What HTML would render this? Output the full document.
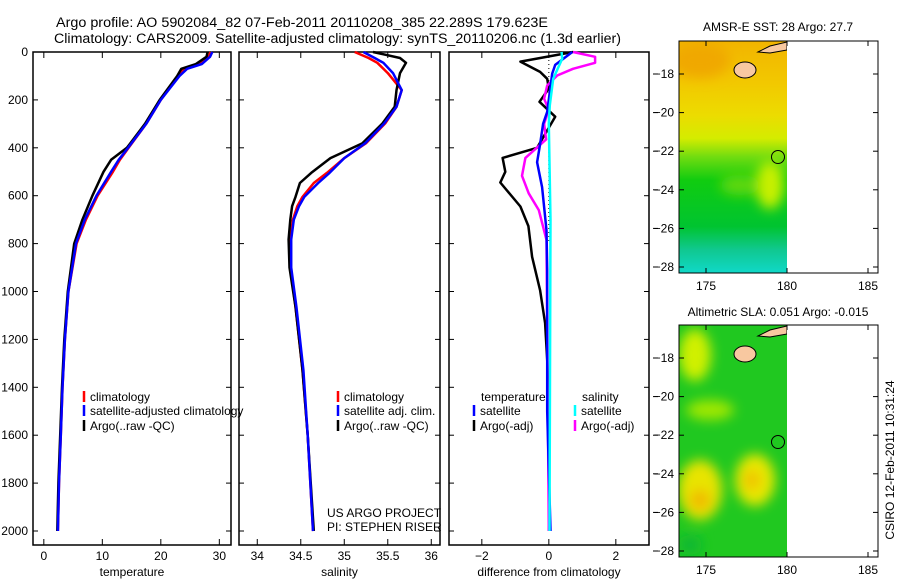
<!DOCTYPE html>
<html><head><meta charset="utf-8"><style>
html,body{margin:0;padding:0;background:#fff;}
svg{display:block;font-family:"Liberation Sans",sans-serif;}
</style></head><body>
<svg id="chart" width="900" height="580" viewBox="0 0 900 580" xmlns="http://www.w3.org/2000/svg">
<defs>
<linearGradient id="sstg" x1="0" y1="0" x2="0" y2="1">
<stop offset="0" stop-color="#f2b400"/><stop offset="0.18" stop-color="#f2c800"/>
<stop offset="0.32" stop-color="#ecdc00"/><stop offset="0.42" stop-color="#d4ec00"/>
<stop offset="0.5" stop-color="#70dc10"/><stop offset="0.6" stop-color="#10cc10"/>
<stop offset="0.8" stop-color="#00c430"/><stop offset="0.9" stop-color="#10c890"/>
<stop offset="1" stop-color="#10d8c8"/></linearGradient>
<filter id="blur"><feGaussianBlur stdDeviation="6"/></filter>
<clipPath id="c1"><rect x="679" y="41" width="108" height="232"/></clipPath>
<clipPath id="c2"><rect x="679" y="325" width="108" height="232"/></clipPath>
</defs>
<text x="56" y="27" font-size="13.5" textLength="492" lengthAdjust="spacingAndGlyphs">Argo profile: AO 5902084_82 07-Feb-2011 20110208_385 22.289S 179.623E</text>
<text x="54" y="43" font-size="13.5" textLength="567" lengthAdjust="spacingAndGlyphs">Climatology: CARS2009. Satellite-adjusted climatology: synTS_20110206.nc (1.3d earlier)</text>
<g id="panels"></g>
<g>
<text x="778" y="31" font-size="12" text-anchor="middle">AMSR-E SST: 28 Argo: 27.7</text>
<g clip-path="url(#c1)">
<rect x="679" y="41" width="108" height="232" fill="url(#sstg)"/>
<g filter="url(#blur)">
<ellipse cx="770" cy="185" rx="14" ry="24" fill="#c8f000"/>
<ellipse cx="700" cy="60" rx="30" ry="18" fill="#f0a800"/>
<ellipse cx="740" cy="185" rx="20" ry="10" fill="#60d810"/>
</g>
<ellipse cx="745" cy="70" rx="11" ry="8" fill="#f8c8a0" stroke="#000"/>
<path d="M758 52 L770 46 L787 42 L787 50 L770 53 Z" fill="#f8c8a0" stroke="#000"/>
</g>
<rect x="679" y="41" width="199" height="232" fill="none" stroke="#000"/>
<circle cx="778" cy="157" r="6.5" fill="none" stroke="#000"/>
</g>
<g>
<text x="778" y="316" font-size="12" text-anchor="middle">Altimetric SLA: 0.051 Argo: -0.015</text>
<g clip-path="url(#c2)">
<rect x="679" y="325" width="108" height="232" fill="#20c820"/>
<g filter="url(#blur)">
<ellipse cx="695" cy="355" rx="16" ry="26" fill="#d0f000"/>
<ellipse cx="710" cy="410" rx="24" ry="10" fill="#a0e800"/>
<ellipse cx="700" cy="490" rx="22" ry="30" fill="#e8e400"/>
<ellipse cx="700" cy="500" rx="10" ry="10" fill="#f0b800"/>
<ellipse cx="755" cy="480" rx="20" ry="26" fill="#e8e800"/>
<ellipse cx="752" cy="480" rx="8" ry="10" fill="#f0c000"/>
<ellipse cx="690" cy="545" rx="12" ry="10" fill="#10b830"/>
</g>
<ellipse cx="745" cy="354" rx="11" ry="8" fill="#f8c8a0" stroke="#000"/>
<path d="M758 336 L770 330 L787 326 L787 334 L770 337 Z" fill="#f8c8a0" stroke="#000"/>
</g>
<rect x="679" y="325" width="199" height="232" fill="none" stroke="#000"/>
<circle cx="778" cy="442" r="6.5" fill="none" stroke="#000"/>
</g>
<g id="mapaxes"></g>
<text font-size="12" transform="translate(894,460) rotate(-90)" text-anchor="middle">CSIRO 12-Feb-2011 10:31:24</text>
</svg>
<script>
var depthTicks=[0,200,400,600,800,1000,1200,1400,1600,1800,2000];
var tempTicks=[0,10,20,30];
var salTicks=[34,34.5,35,35.5,36];
var diffTicks=[-2,0,2];
var tDepth=[0,20,50,70,100,200,300,400,450,500,600,700,800,1000,1200,1400,1600,1800,2000];
var tClim=[28.5,28.2,26.5,24,23,20,17.5,14.5,13,11.8,9.2,7.2,5.6,4.2,3.6,3.2,2.9,2.6,2.4];
var tSat=[28.8,28.4,27,24.5,23.2,20,17.5,14.4,12.8,11.5,9.0,7.0,5.5,4.2,3.6,3.2,2.9,2.6,2.4];
var tArgo=[28,27.8,26,23.5,22.8,19.8,17.3,14.2,11.5,10.2,8.3,6.6,5.2,4.1,3.5,3.1,2.8,2.5,2.3];
var sDepth=[0,25,45,88,159,229,298,381,443,505,547,605,644,700,783,900,1064,1328,1600,2000];
var sClim=[35.12,35.28,35.38,35.5,35.66,35.6,35.47,35.25,35.0,34.8,34.65,34.52,34.46,34.41,34.38,34.38,34.44,34.52,34.58,34.64];
var sSat=[35.22,35.35,35.45,35.56,35.66,35.6,35.46,35.24,35.0,34.83,34.7,34.54,34.48,34.42,34.39,34.39,34.45,34.53,34.58,34.64];
var sArgo=[35.33,35.64,35.71,35.64,35.6,35.58,35.44,35.21,34.84,34.62,34.49,34.44,34.4,34.38,34.36,34.37,34.44,34.52,34.58,34.65];
var dTArgoDepth=[0,40,83,112,153,208,270,340,400,442,500,545,645,727,855,995,1132,1285,1500,2000];
var dTArgo=[0.72,-0.85,-0.26,-0.05,0,-0.28,0.19,-0.1,-0.35,-1.38,-1.3,-1.45,-0.85,-0.61,-0.5,-0.26,-0.11,-0.05,0,0];
var dTSatDepth=[0,54,90,250,300,385,460,565,745,910,1500,2000];
var dTSat=[0.7,0.19,0.1,-0.05,-0.17,-0.26,-0.35,-0.2,-0.07,-0.05,-0.05,0.05];
var dSArgoDepth=[0,20,45,70,98,140,195,240,300,365,442,517,590,660,785,2000];
var dSArgo=[0.72,1.38,1.38,0.72,0.25,-0.05,-0.14,0,-0.14,-0.08,-0.7,-0.8,-0.6,-0.3,-0.07,0];
var dSSatDepth=[0,28,112,223,300,700,2000];
var dSSat=[0.38,0.4,0.13,0.03,0,0.05,0.02];
var latTicks=[-18,-20,-22,-24,-26,-28];
var lonTicks=[175,180,185];

var NS='http://www.w3.org/2000/svg';
var g=document.getElementById('panels');
function el(t,a,p){var e=document.createElementNS(NS,t);for(var k in a)e.setAttribute(k,a[k]);(p||g).appendChild(e);return e;}
function txt(s,a,p){var e=el('text',a,p);e.textContent=s;return e;}
function yD(d){return 52+d*0.2395;}
var panels=[
 {name:'temperature',x0:33,x1:231,v0:-1.85,k:5.85,ticks:tempTicks,label:'temperature'},
 {name:'salinity',x0:239,x1:440,v0:33.79,k:87,ticks:salTicks,label:'salinity'},
 {name:'difference',x0:449,x1:649,v0:-2.98,k:33.5,ticks:diffTicks,label:'difference from climatology'}
];
panels.forEach(function(p,i){
  p.xf=function(v){return p.x0+(v-p.v0)*p.k;};
  var b=el('rect',{x:p.x0,y:52,width:p.x1-p.x0,height:493,fill:'none',stroke:'#000','stroke-width':1.5});
  
  
  p.ticks.forEach(function(t){var x=p.xf(t);
    el('line',{x1:x,x2:x,y1:545,y2:539,stroke:'#000'});el('line',{x1:x,x2:x,y1:52,y2:58,stroke:'#000'});
    var l=txt(String(t).replace('-','\u2212'),{x:x,y:560,'font-size':12,'text-anchor':'middle'});
    
    
  });
  depthTicks.forEach(function(d){var y=yD(d);
    el('line',{x1:p.x0,x2:p.x0+5,y1:y,y2:y,stroke:'#000'});el('line',{x1:p.x1,x2:p.x1-5,y1:y,y2:y,stroke:'#000'});
    if(i==0){var l=txt(String(d),{x:28,y:y+4,'font-size':12,'text-anchor':'end'});
      
      }
  });
  var xl=txt(p.label,{x:(p.x0+p.x1)/2,y:576,'font-size':12,'text-anchor':'middle'});
  
  
});
function line(p,depths,vals,color,name,w){
  var pts=depths.map(function(d,i){return p.xf(vals[i]).toFixed(1)+','+yD(d).toFixed(1);}).join(' ');
  var l=el('polyline',{points:pts,fill:'none',stroke:color,'stroke-width':w||2.5,'stroke-linejoin':'round'});
  
  
}
var P=panels;
line(P[0],tDepth,tClim,'#f00','temp-climatology-line');
line(P[0],tDepth,tArgo,'#000','temp-argo-line');
line(P[0],tDepth,tSat,'#00f','temp-satellite-line');
line(P[1],sDepth,sClim,'#f00','sal-climatology-line');
line(P[1],sDepth,sArgo,'#000','sal-argo-line');
line(P[1],sDepth,sSat,'#00f','sal-satellite-line');
el('line',{x1:P[2].xf(0),x2:P[2].xf(0),y1:52,y2:yD(800),stroke:'#000','stroke-dasharray':'1,3'});
line(P[2],dTArgoDepth,dTArgo,'#000','diff-temp-argo-line');
line(P[2],dSArgoDepth,dSArgo,'#f0f','diff-sal-argo-line');
line(P[2],dTSatDepth,dTSat,'#00f','diff-temp-satellite-line');
line(P[2],dSSatDepth,dSSat,'#0ff','diff-sal-satellite-line');
function leg(x,y,c,s,name){el('line',{x1:x,x2:x,y1:y-6,y2:y+5,stroke:c,'stroke-width':2.5});
  var t=txt(s,{x:x+6,y:y+4,'font-size':12});}
leg(84,397,'#f00','climatology','legend-climatology');
leg(84,411,'#00f','satellite-adjusted climatology','legend-satellite-adjusted');
leg(84,426,'#000','Argo(..raw -QC)','legend-argo');
leg(338,397,'#f00','climatology','legend-sal-climatology');
leg(338,411,'#00f','satellite adj. clim.','legend-sal-satellite');
leg(338,426,'#000','Argo(..raw -QC)','legend-sal-argo');
txt('temperature',{x:481,y:401,'font-size':12});
txt('salinity',{x:582,y:401,'font-size':12});
leg(474,411,'#00f','satellite','legend-diff-temp-satellite');
leg(474,426,'#000','Argo(-adj)','legend-diff-temp-argo');
leg(575,411,'#0ff','satellite','legend-diff-sal-satellite');
leg(575,426,'#f0f','Argo(-adj)','legend-diff-sal-argo');
var c1=txt('US ARGO PROJECT',{x:327,y:517,'font-size':12});


var c2=txt('PI: STEPHEN RISER',{x:327,y:531,'font-size':12});


var mg=document.getElementById('mapaxes');
[[41,74],[325,358]].forEach(function(m){
  var top=m[0],y18=m[1],bot=top+232;
  latTicks.forEach(function(lat){
    var y=y18+(-18-lat)*19.3;
    el('line',{x1:679,x2:684,y1:y,y2:y,stroke:'#000'},mg);el('line',{x1:878,x2:873,y1:y,y2:y,stroke:'#000'},mg);
    el('line',{x1:653,x2:658,y1:y,y2:y,stroke:'#000'},mg);
    var l=txt(String(lat).replace('-','\u2212'),{x:674,y:y+4,'font-size':12,'text-anchor':'end'},mg);
    
    
  });
  lonTicks.forEach(function(lon){var x=706+(lon-175)*16.2;
    el('line',{x1:x,x2:x,y1:bot,y2:bot-5,stroke:'#000'},mg);el('line',{x1:x,x2:x,y1:top,y2:top+5,stroke:'#000'},mg);
    var l=txt(String(lon),{x:x,y:bot+17,'font-size':12,'text-anchor':'middle'},mg);
    
    
  });
});
</script>
</body></html>
